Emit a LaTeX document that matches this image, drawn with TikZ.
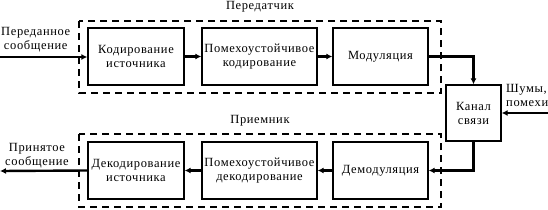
\documentclass[tikz,border=0pt]{standalone}
\usepackage{fontspec}
\setmainfont{Liberation Serif}[LetterSpace=5]
\usetikzlibrary{arrows.meta}
\begin{document}
\begin{tikzpicture}[x=1pt,y=-1pt,
  blk/.style={draw,line width=1.3pt,minimum width=#1,minimum height=57pt,align=center,inner sep=1pt,font=\fontsize{12.5}{14}\selectfont},
  grp/.style={draw,dashed,line width=1.1pt,dash pattern=on 7pt off 5pt},
  conn/.style={line width=2.4pt,-{Latex[length=6pt,width=6pt]}},
  lbl/.style={font=\fontsize{12.5}{14}\selectfont,inner sep=0pt,align=center}]
\useasboundingbox (0,0) rectangle (548,209);
% groups
\draw[grp] (79,21) rectangle (441,93);
\draw[grp] (79,134) rectangle (441,207);
\node[lbl] (tl) at (260,7) {Передатчик};
\node[lbl] (rl) at (260,121) {Приемник};
% top row
\node[blk=96pt] (a) at (136,56.5) {Кодирование\\источника};
\node[blk=115pt] (b) at (259.5,56.5) {Помехоустойчивое\\кодирование};
\node[blk=95pt] (c) at (380.5,56.5) {Модуляция};
% bottom row
\node[blk=96pt] (d) at (136,170.5) {Декодирование\\источника};
\node[blk=115pt] (e) at (259.5,170.5) {Помехоустойчивое\\декодирование};
\node[blk=95pt] (f) at (380.5,170.5) {Демодуляция};
% channel
\node[blk=55pt,minimum height=56pt] (k) at (473.5,113) {Канал\\связи};
% texts
\node[lbl,anchor=west] (in) at (1,40) {Переданное\\сообщение};
\node[lbl,anchor=west] (out) at (5,156) {Принятое\\сообщение};
\node[lbl,anchor=west,align=left] (sh) at (506,95) {Шумы,\\помехи};
\coordinate (inS) at (0,57);
\coordinate (outE) at (0,171);
\coordinate (shS) at (548,113);
% connectors
\draw[conn] (inS) -- (a.west|-inS);
\draw[conn] (a) -- (b);
\draw[conn] (b) -- (c);
\draw[conn] (c.east) -| (k.north);
\draw[conn] (shS) -- (k.east|-shS);
\draw[conn] (k.south) |- (f.east);
\draw[conn] (f) -- (e);
\draw[conn] (e) -- (d);
\draw[conn] (d.west) -- (outE);
\end{tikzpicture}
\end{document}
